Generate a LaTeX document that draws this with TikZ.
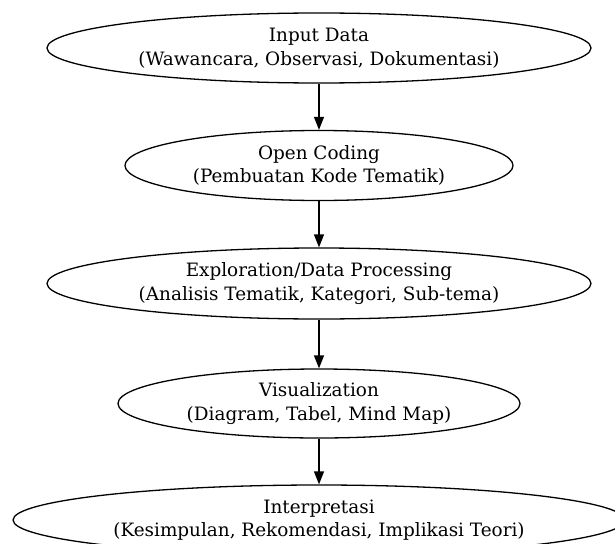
\documentclass[tikz,border=0pt]{standalone}
\usepackage{fontspec}
\setmainfont{DejaVu Serif}
\usetikzlibrary{shapes.geometric,arrows.meta}
\begin{document}
\begin{tikzpicture}[x=1pt,y=-1pt,
  ell/.style={draw, ellipse, inner sep=0pt, line width=1.3pt, align=center,
    font=\fontsize{18.4}{23.5}\selectfont},
  flow/.style={-{Triangle[length=13pt,width=10pt]}, line width=1.3pt}]
\useasboundingbox (0,0) rectangle (615,543);
\node[ell, minimum width=544pt, minimum height=70pt] (a) at (319,48) {Input Data\\(Wawancara, Observasi, Dokumentasi)};
\node[ell, minimum width=388pt, minimum height=70pt] (b) at (319,165.5) {Open Coding\\(Pembuatan Kode Tematik)};
\node[ell, minimum width=544pt, minimum height=71pt] (c) at (319,283.5) {Exploration/Data Processing\\(Analisis Tematik, Kategori, Sub-tema)};
\node[ell, minimum width=402pt, minimum height=69pt] (d) at (319,403.5) {Visualization\\(Diagram, Tabel, Mind Map)};
\node[ell, minimum width=612pt, minimum height=70pt] (e) at (319,520) {Interpretasi\\(Kesimpulan, Rekomendasi, Implikasi Teori)};
\draw[flow] (a) -- (b);
\draw[flow] (b) -- (c);
\draw[flow] (c) -- (d);
\draw[flow] (d) -- (e);
\end{tikzpicture}
\end{document}
